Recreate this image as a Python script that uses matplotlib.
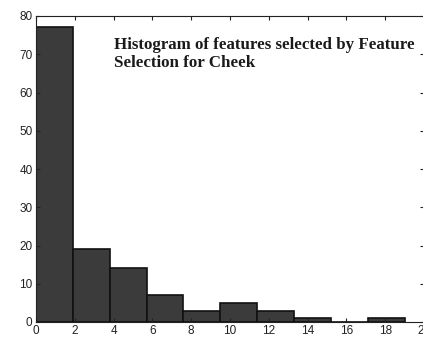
import numpy as np
import matplotlib
matplotlib.use("Agg")
import matplotlib.pyplot as plt

# histogram bins (10 equal bins over 0..19) and their counts
bin_edges = [0, 1.9, 3.8, 5.7, 7.6, 9.5, 11.4, 13.3, 15.2, 17.1, 19.0]
counts = [77, 19, 14, 7, 3, 5, 3, 1, 0, 1]
x_ticks = list(range(0, 21, 2))
y_ticks = list(range(0, 81, 10))
title = "Histogram of features selected by Feature\nSelection for Cheek"

plt.rcParams['font.family'] = ['Liberation Sans', 'DejaVu Sans']

fig = plt.figure(figsize=(4.23, 3.4), dpi=100)
ax = fig.add_axes([36 / 423, 18 / 340, 388 / 423, 306 / 340])

widths = np.diff(bin_edges)
ax.bar(bin_edges[:-1], counts, width=widths, align='edge',
       color='#3b3b3b', edgecolor='#111111', linewidth=1.2)

ax.set_xlim(0, 20)
ax.set_ylim(0, 80)
ax.set_xticks(x_ticks)
ax.set_yticks(y_ticks)
ax.tick_params(direction='in', top=True, right=True, length=3,
               labelsize=8.5, colors='#222222', pad=2.5)
for s in ax.spines.values():
    s.set_color('#222222')
    s.set_linewidth(0.8)

ax.text(4.0, 74.6, title, family=['Liberation Serif'], fontweight='bold',
        fontsize=12.2, color='#1a1a1a', va='top', ha='left', linespacing=1.2)

fig.savefig('out.png', dpi=100)
